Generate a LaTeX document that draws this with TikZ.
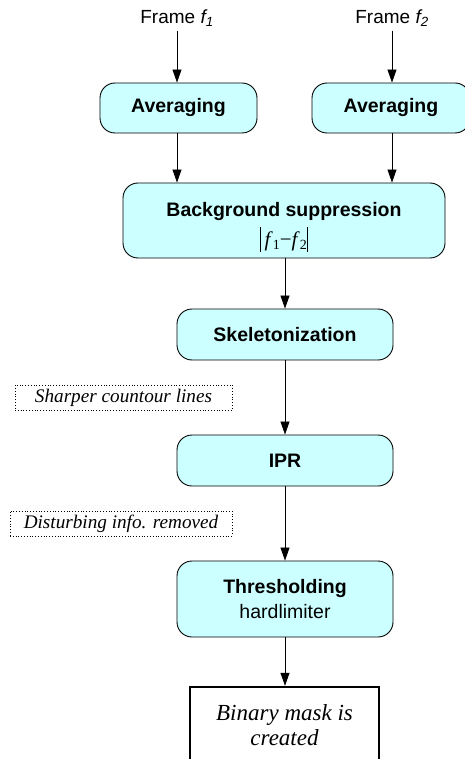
\documentclass[tikz,border=0pt]{standalone}
\usepackage{fontspec}
\setmainfont{Liberation Serif}
\newfontfamily\arialfont{Liberation Sans}
\usetikzlibrary{arrows.meta}
\definecolor{boxcyan}{RGB}{204,255,255}
\tikzset{
  procbox/.style={draw=black, line width=0.9pt, fill=boxcyan, rounded corners=15pt,
    align=center, font=\arialfont\fontsize{19.5}{25}\selectfont, inner sep=2pt},
  notebox/.style={draw=black, dotted, line width=0.8pt, inner sep=2pt,
    font=\fontsize{19.2}{22}\selectfont\itshape},
  endbox/.style={draw=black, line width=2.4pt, align=center, inner sep=2pt,
    font=\fontsize{23}{25}\selectfont\itshape},
  lbl/.style={font=\arialfont\fontsize{19}{20}\selectfont, inner sep=1pt},
  flow/.style={-{Triangle[length=13pt,width=9pt]}, line width=0.8pt}
}
\begin{document}
\begin{tikzpicture}[x=1pt,y=-1pt]
\useasboundingbox (0,0) rectangle (465,759);
\begin{scope}
\clip (0,0) rectangle (465,759);
\node[lbl] (f1) at (177,18) {Frame \textit{f\textsubscript{1}}};
\node[lbl] (f2) at (392,18) {Frame \textit{f\textsubscript{2}}};
\node[procbox, minimum width=157pt, minimum height=50pt] (avg1) at (178.5,108) {\textbf{Averaging}};
\node[procbox, minimum width=158pt, minimum height=50pt] (avg2) at (391,108) {\textbf{Averaging}};
\node[procbox, minimum width=322pt, minimum height=75pt] (bg) at (284,220.5)
  {\rule{0pt}{28pt}\textbf{Background suppression}\\[4pt]
   {\rmfamily\fontsize{21}{21}\selectfont\rule[-6pt]{0.7pt}{25pt}\,\textit{f}\raisebox{-3pt}{\fontsize{14}{14}\selectfont 1}−\textit{f}\raisebox{-3pt}{\fontsize{14}{14}\selectfont 2}\rule[-6pt]{0.7pt}{25pt}}};
\node[procbox, minimum width=216pt, minimum height=51pt] (skel) at (285,334.5) {\textbf{Skeletonization}};
\node[procbox, minimum width=216pt, minimum height=51pt] (ipr) at (285,460.5) {\textbf{IPR}};
\node[procbox, minimum width=216pt, minimum height=76pt] (thr) at (285,599) {\textbf{Thresholding}\\hardlimiter};
\node[endbox, minimum width=189pt, minimum height=76pt] (bin) at (284.5,725) {Binary mask is\\created};
\node[notebox, minimum width=217pt, minimum height=25pt] (n1) at (123.5,397.5) {Sharper countour lines};
\node[notebox, minimum width=222pt, minimum height=25pt] (n2) at (121,523.5) {Disturbing info. removed};
\draw[flow] (f1.south) ++(0,3) -- (f1.south |- avg1.north);
\draw[flow] (f2.south) ++(0,3) -- (f2.south |- avg2.north);
\draw[flow] (avg1.south -| f1.south) -- (f1.south |- bg.north);
\draw[flow] (avg2.south -| f2.south) -- (f2.south |- bg.north);
\draw[flow] (bg.south -| skel.north) -- (skel.north);
\draw[flow] (skel.south) -- (ipr.north);
\draw[flow] (ipr.south) -- (thr.north);
\draw[flow] (thr.south) -- (thr.south |- bin.north);
\end{scope}
\end{tikzpicture}
\end{document}
